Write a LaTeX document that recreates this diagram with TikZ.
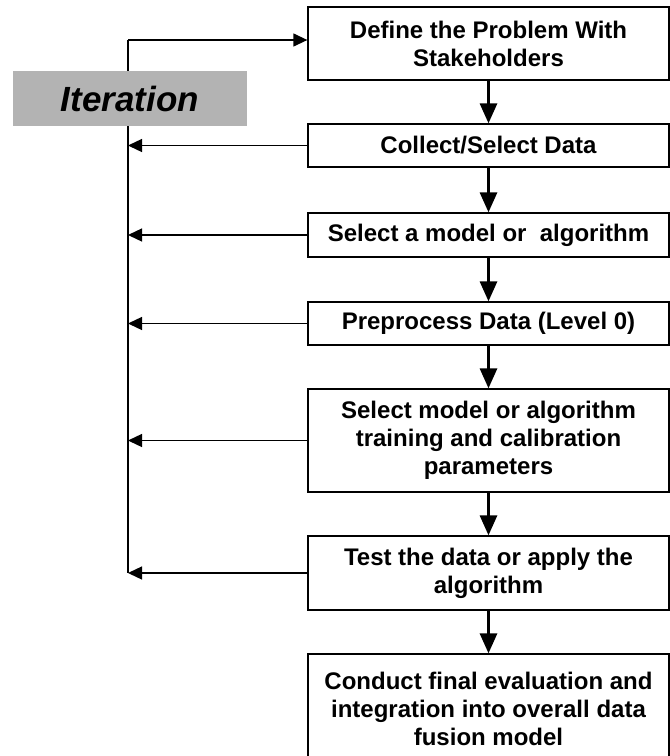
\documentclass[tikz,border=0pt]{standalone}
\usepackage{fontspec}
\setmainfont{Liberation Sans}
\usetikzlibrary{arrows.meta}
\definecolor{itergray}{HTML}{B3B3B3}
\begin{document}
\begin{tikzpicture}[x=1pt,y=-1pt,
  stepbox/.style={draw, line width=1.3pt, minimum width=361pt, inner sep=0pt,
    align=center, font=\fontsize{24}{28}\selectfont\bfseries},
  flow/.style={line width=3pt, -{Triangle[length=20pt,width=17pt]}},
  back/.style={line width=1.3pt, -{Triangle[length=14pt,width=13pt]}},
  spineline/.style={line width=1.3pt},
  iterbox/.style={fill=itergray, minimum width=234pt, minimum height=55pt,
    inner sep=0pt, font=\fontsize{35}{40}\selectfont\bfseries\itshape}]
\useasboundingbox (0,0) rectangle (670,756);
\clip (0,0) rectangle (670,756);

% process steps
\node[stepbox, minimum height=73pt]  (b1) at (488.5,43.5)  {Define the Problem With\\Stakeholders};
\node[stepbox, minimum height=43pt]  (b2) at (488.5,145.5) {Collect/Select Data};
\node[stepbox, minimum height=44pt]  (b3) at (488.5,235)   {Select a model or~ algorithm};
\node[stepbox, minimum height=43pt]  (b4) at (488.5,323.5) {Preprocess Data (Level 0)};
\node[stepbox, minimum height=103pt] (b5) at (488.5,440.5) {Select model or algorithm\\training and calibration\\parameters};
\node[stepbox, minimum height=74pt]  (b6) at (488.5,573)   {Test the data or apply the\\algorithm};
\node[stepbox, minimum height=110pt] (b7) at (488.5,709)   {Conduct final evaluation and\\integration into overall data\\fusion model};

% forward flow
\foreach \a/\b in {b1/b2,b2/b3,b3/b4,b4/b5,b5/b6,b6/b7}
  \draw[flow] (\a.south) -- (\b.north);

% iteration loop
\coordinate (spine) at (128,40);
\draw[spineline] (spine) -- (spine |- b6.west);
\draw[back] (spine) -- (spine -| b1.west);
\foreach \s in {b2,b3,b4,b5,b6}
  \draw[back] (\s.west) -- (\s.west -| spine);

\node[iterbox] (iter) at (130,98.5) {Iteration};
\end{tikzpicture}
\end{document}
